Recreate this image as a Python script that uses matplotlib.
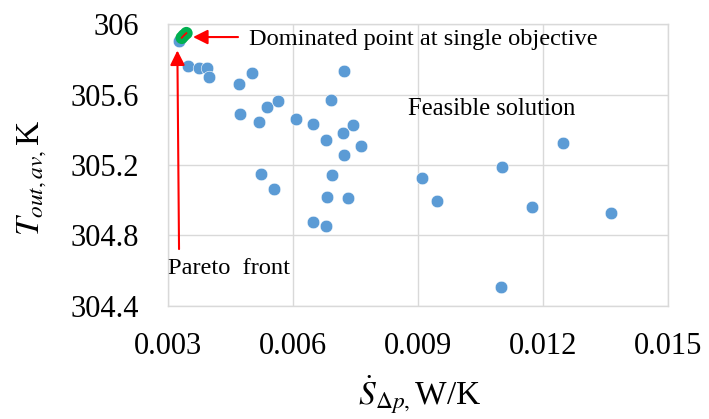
"""
plot.py - Pareto scatter: outlet temperature vs. entropy generation rate.
Output: out.png
"""

import matplotlib
matplotlib.use("Agg")
import matplotlib.pyplot as plt

plt.rcParams["font.family"] = "Liberation Serif"
plt.rcParams["mathtext.fontset"] = "stix"

# feasible solutions (S_dot_dp [W/K], T_out_av [K])
feasible_x = [0.003264, 0.00349, 0.00375, 0.00394, 0.00398,
              0.00470, 0.00502, 0.00723,
              0.00473, 0.00518, 0.00537, 0.00563, 0.00607, 0.00649, 0.00691,
              0.00679, 0.00721, 0.00745, 0.00764, 0.00722,
              0.00522, 0.00555, 0.00694, 0.00682, 0.00731, 0.00647, 0.00679,
              0.00910, 0.00945, 0.01101, 0.01173, 0.01247, 0.01362, 0.01098]
feasible_y = [305.903, 305.763, 305.749, 305.749, 305.698,
              305.660, 305.720, 305.735,
              305.488, 305.444, 305.531, 305.563, 305.459, 305.431, 305.569,
              305.342, 305.383, 305.425, 305.310, 305.259,
              305.149, 305.064, 305.143, 305.020, 305.015, 304.877, 304.854,
              305.126, 304.994, 305.187, 304.963, 305.327, 304.926, 304.510]

# points on the Pareto front
pareto_x = [0.00333, 0.00338, 0.00344]
pareto_y = [305.922, 305.935, 305.948]

x_ticks = [0.003, 0.006, 0.009, 0.012, 0.015]
y_ticks = [304.4, 304.8, 305.2, 305.6, 306.0]
x_tick_labels = ["0.003", "0.006", "0.009", "0.012", "0.015"]
y_tick_labels = ["304.4", "304.8", "305.2", "305.6", "306"]

GRID = "#d9d9d9"
BLUE = "#5b9bd5"
GREEN = "#00b050"

fig = plt.figure(figsize=(7.09, 4.19), dpi=100)
ax = fig.add_axes([0.237, 0.2697, 0.7052, 0.673])

ax.scatter(feasible_x, feasible_y, s=82, color=BLUE, edgecolors="white",
           linewidths=0.4, zorder=3, clip_on=False)
ax.scatter(pareto_x, pareto_y, s=82, color=GREEN, edgecolors="none",
           zorder=4, clip_on=False)
ax.plot(pareto_x, pareto_y, color="red", lw=1.3, zorder=5, clip_on=False)

ax.set_xlim(0.003, 0.015)
ax.set_ylim(304.4, 306.0)
ax.set_xticks(x_ticks)
ax.set_xticklabels(x_tick_labels)
ax.set_yticks(y_ticks)
ax.set_yticklabels(y_tick_labels)
ax.tick_params(axis="both", length=0, labelsize=22)
ax.tick_params(axis="x", pad=19)
ax.tick_params(axis="y", pad=21)

ax.grid(True, color=GRID, lw=1)
ax.set_axisbelow(True)
for sp in ax.spines.values():
    sp.set_color(GRID)
    sp.set_linewidth(1)

# annotations
arrow = dict(arrowstyle="-|>", color="red", lw=1.5, mutation_scale=22,
             shrinkA=0, shrinkB=0)
ax.annotate("", xy=(0.00360, 305.926), xytext=(0.00468, 305.926),
            arrowprops=arrow, annotation_clip=False)
ax.annotate("", xy=(0.003224, 305.85), xytext=(0.003264, 304.723),
            arrowprops=arrow, annotation_clip=False)

ax.text(0.00494, 305.91, "Dominated point at single objective", fontsize=17.6,
        va="center", ha="left")
ax.text(0.00876, 305.52, "Feasible solution", fontsize=17.7,
        va="center", ha="left")
ax.text(0.00300, 304.61, "Pareto  front", fontsize=17.6,
        va="center", ha="left")

fig.text(0.045, 1 - 178 / 419, r"$T_{out,av,}$K", rotation=90, fontsize=24,
         ha="center", va="center")
fig.text(0.592, 1 - 395 / 419, r"$\dot{S}_{\mathit{\Delta p},}$W/K", fontsize=24,
         ha="center", va="center")

fig.savefig("out.png", dpi=100)
